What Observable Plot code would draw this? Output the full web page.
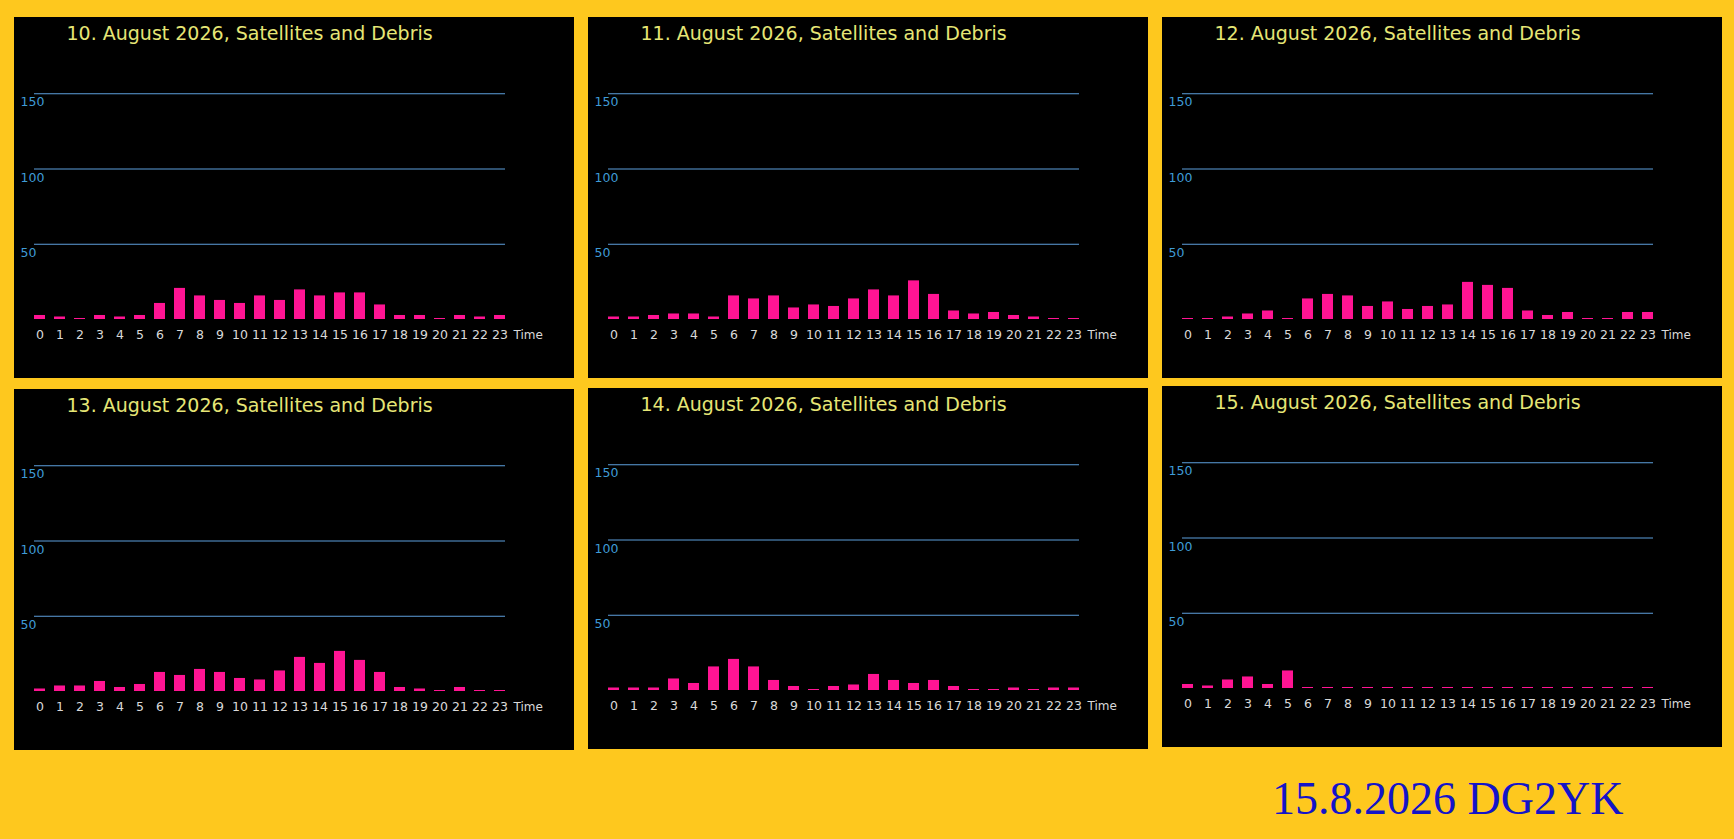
<!DOCTYPE html>
<html>
<head>
<meta charset="utf-8">
<script src="https://cdn.jsdelivr.net/npm/d3@7"></script>
<script src="https://cdn.jsdelivr.net/npm/@observablehq/plot@0.6"></script>
<style>
  html, body { margin: 0; padding: 0; }
  body { width: 1734px; height: 839px; background: #fec81e; position: relative; overflow: hidden; }
  .panel { position: absolute; width: 560px; height: 361px; background: #000; }
  .caption { position: absolute; left: 1272px; top: 776px; font-family: "Liberation Serif", "DejaVu Serif", serif; font-size: 46px; line-height: 46px; color: #1414c8; white-space: nowrap; }
</style>
</head>
<body>
<div class="caption">15.8.2026 DG2YK</div>
<script>
// ---- data ----
const hours = d3.range(0, 24);
const gridTicks = [50, 100, 150];
const titles = [
  "10. August 2026, Satellites and Debris",
  "11. August 2026, Satellites and Debris",
  "12. August 2026, Satellites and Debris",
  "13. August 2026, Satellites and Debris",
  "14. August 2026, Satellites and Debris",
  "15. August 2026, Satellites and Debris"
];
const day10 = [2, 1, 0, 2, 1, 2, 10, 20, 15, 12, 10, 15, 12, 19, 15, 17, 17, 9, 2, 2, 0, 2, 1, 2];
const day11 = [1, 1, 2, 3, 3, 1, 15, 13, 15, 7, 9, 8, 13, 19, 15, 25, 16, 5, 3, 4, 2, 1, 0, 0];
const day12 = [0, 0, 1, 3, 5, 0, 13, 16, 15, 8, 11, 6, 8, 9, 24, 22, 20, 5, 2, 4, 0, 0, 4, 4];
const day13 = [1, 3, 3, 6, 2, 4, 12, 10, 14, 12, 8, 7, 13, 22, 18, 26, 20, 12, 2, 1, 0, 2, 0, 0];
const day14 = [1, 1, 1, 7, 4, 15, 20, 15, 6, 2, 0, 2, 3, 10, 6, 4, 6, 2, 0, 0, 1, 0, 1, 1];
const day15 = [2, 1, 5, 7, 2, 11, 0, 0, 0, 0, 0, 0, 0, 0, 0, 0, 0, 0, 0, 0, 0, 0, 0, 0];
const days = [day10, day11, day12, day13, day14, day15];
const positions = [[14, 17], [588, 17], [1162, 17], [14, 389], [588, 388], [1162, 386]];

// ---- drawing ----
days.forEach((vals, i) => {
  const rows = hours.map((h, k) => ({hour: h, count: vals[k]}));
  const plot = Plot.plot({
    width: 560,
    height: 361,
    marginLeft: 20,
    marginRight: 69,
    marginTop: 1,
    marginBottom: 59,
    style: {background: "#000", fontFamily: "DejaVu Sans, sans-serif", overflow: "visible"},
    x: {type: "band", domain: hours, paddingInner: 0.45, paddingOuter: 0, axis: null},
    y: {domain: [0, 200], axis: null},
    marks: [
      Plot.ruleY(gridTicks, {stroke: "#5d9fdc", strokeWidth: 1}),
      Plot.text(gridTicks, {y: d => d, text: d => String(d), frameAnchor: "left", textAnchor: "start", dx: -14, dy: 8.5, fontSize: 12.5, fill: "#3f9bd6"}),
      Plot.barY(rows, {x: "hour", y1: 0, y2: "count", fill: "#ff1493", insetTop: -1}),
      Plot.text(hours, {x: d => d, y: 0, text: d => String(d), dy: 15.5, lineAnchor: "middle", fontSize: 12.5, fill: "#d9d9d9"}),
      Plot.text(["Time"], {frameAnchor: "bottom-right", text: d => d, textAnchor: "start", dx: 8, dy: 15.5, lineAnchor: "middle", fontSize: 12, fill: "#d9d9d9"}),
      Plot.text([titles[i]], {frameAnchor: "top-left", text: d => d, textAnchor: "start", lineAnchor: "middle", dx: 32, dy: 15, fontSize: 19, fill: "#e6e676"})
    ]
  });
  const div = document.createElement("div");
  div.className = "panel";
  div.style.left = positions[i][0] + "px";
  div.style.top = positions[i][1] + "px";
  div.appendChild(plot);
  document.body.appendChild(div);
});
</script>
</body>
</html>
